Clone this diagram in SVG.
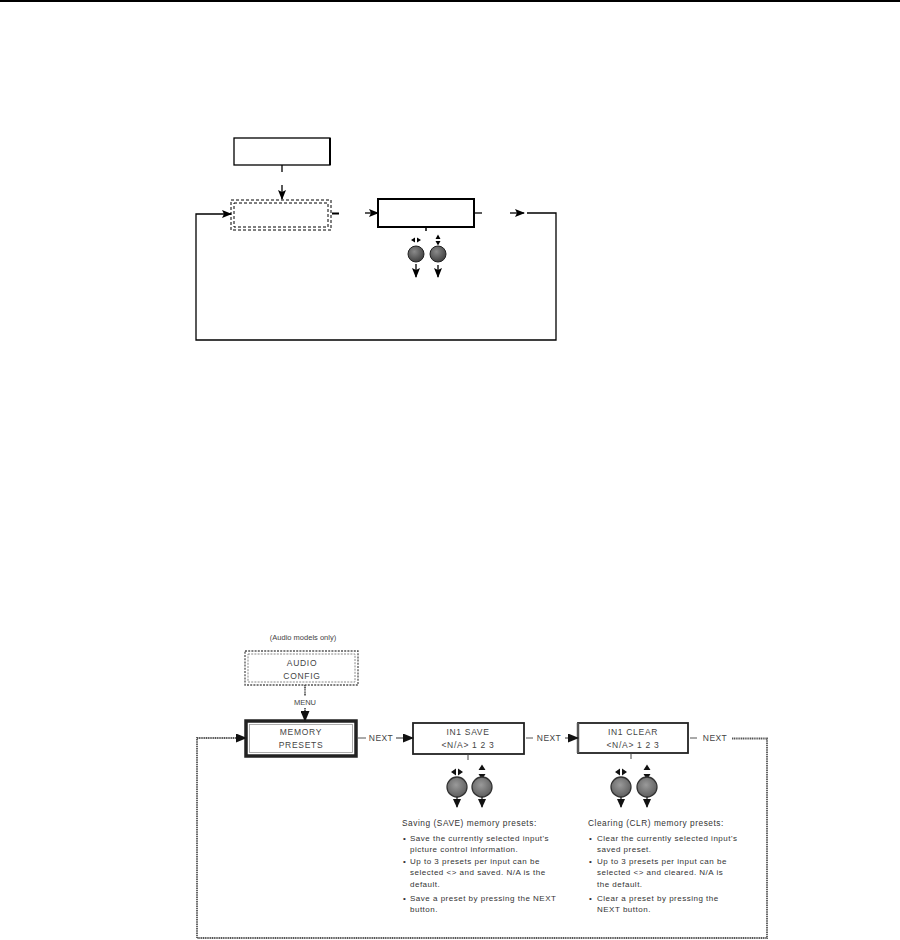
<svg xmlns="http://www.w3.org/2000/svg" width="900" height="940" viewBox="0 0 900 940">
<style>
text{font-family:"Liberation Sans",Arial,sans-serif;fill:#333}
.ln{fill:none;stroke:#000;stroke-width:1.3}
.gl{fill:none;stroke:#555;stroke-width:1.8;stroke-dasharray:1.2 0.6}
.lbl{font-size:8.5px;letter-spacing:0.7px;text-anchor:middle;fill:#444}
.nx{font-size:8.5px;letter-spacing:0.4px;text-anchor:middle;fill:#444}
.sm{font-size:7.5px;text-anchor:middle;fill:#444}
.note{font-size:8px;letter-spacing:0.5px;fill:#333}
.hd{font-size:8.3px;letter-spacing:0.55px;fill:#333}
.knt{fill:url(#kt);stroke:#222;stroke-width:1}
.knb{fill:url(#kb);stroke:#333;stroke-width:1.3}
</style>
<defs>
<marker id="a" markerUnits="userSpaceOnUse" markerWidth="10" markerHeight="8" refX="9" refY="4" orient="auto"><path d="M0,0 L10,4 L0,8 L2,4 Z" fill="#000"/></marker>
<marker id="b" markerUnits="userSpaceOnUse" markerWidth="11" markerHeight="9" refX="10" refY="4.5" orient="auto"><path d="M0,0 L11,4.5 L0,9 Z" fill="#111"/></marker>
<marker id="c" markerUnits="userSpaceOnUse" markerWidth="9" markerHeight="8" refX="8" refY="4" orient="auto"><path d="M0,0 L9,4 L0,8 Z" fill="#111"/></marker>
<radialGradient id="kt" cx="40%" cy="35%" r="70%"><stop offset="0" stop-color="#8a8a8a"/><stop offset="1" stop-color="#3c3c3c"/></radialGradient>
<radialGradient id="kb" cx="45%" cy="40%" r="70%"><stop offset="0" stop-color="#9a9a9a"/><stop offset="1" stop-color="#555"/></radialGradient>
</defs>

<rect x="0" y="0" width="900" height="2" fill="#000"/>

<!-- Top diagram -->
<g id="top-box1"><rect x="234" y="138" width="96" height="27" fill="#fff" stroke="#000" stroke-width="1.3"/><line x1="330" y1="138" x2="330" y2="165" stroke="#000" stroke-width="2"/></g>
<g id="top-dashed"><rect x="231" y="200" width="100" height="30" fill="none" stroke="#000" stroke-width="1" stroke-dasharray="3 2"/><rect x="234" y="203" width="94" height="24" fill="none" stroke="#000" stroke-width="1" stroke-dasharray="3 2"/></g>
<g id="top-box2"><rect x="378" y="199" width="96" height="28" fill="#fff" stroke="#000" stroke-width="2"/></g>
<g id="top-knobs">
<path d="M411,240 L415,237.5 L415,242.5 Z M421,240 L417,237.5 L417,242.5 Z" fill="#000"/>
<path d="M438,234.5 L435.5,239 L440.5,239 Z M438,245.5 L435.5,241 L440.5,241 Z" fill="#000"/>
<circle class="knt" cx="416" cy="254" r="8"/>
<circle class="knt" cx="438" cy="254" r="8"/>
</g>
<g id="top-connectors">
<line class="ln" x1="282" y1="165" x2="282" y2="172"/>
<line class="ln" x1="282" y1="185" x2="282" y2="199" marker-end="url(#a)"/>
<line x1="332" y1="213.5" x2="339" y2="213.5" stroke="#000" stroke-width="2"/>
<line class="ln" x1="365" y1="213" x2="378" y2="213" marker-end="url(#a)"/>
<line class="ln" x1="474" y1="213" x2="482" y2="213"/>
<line class="ln" x1="510" y1="213" x2="524" y2="213" marker-end="url(#a)"/>
<path class="ln" d="M527,213 H556 V340 H196 V214 H231" marker-end="url(#a)" stroke-width="1.5"/>
<line x1="426" y1="227" x2="426" y2="231" stroke="#000" stroke-width="1.5"/>
<line class="ln" x1="416" y1="264" x2="416" y2="277" marker-end="url(#a)" stroke-width="1.6"/>
<line class="ln" x1="438" y1="265" x2="438" y2="277" marker-end="url(#a)" stroke-width="1.6"/>
</g>

<!-- Bottom diagram -->
<text class="sm" x="303" y="640">(Audio models only)</text>
<g id="audio-config">
<rect x="245" y="651" width="113" height="34" fill="none" stroke="#555" stroke-width="1.3" stroke-dasharray="2 1.2"/>
<rect x="248" y="654" width="107" height="28" fill="none" stroke="#888" stroke-width="1" stroke-dasharray="2 1.2"/>
<text class="lbl" x="302" y="666">AUDIO</text>
<text class="lbl" x="302" y="679">CONFIG</text>
</g>
<g id="memory-presets">
<rect x="246" y="721" width="110" height="35" fill="#fff" stroke="#222" stroke-width="3.5"/>
<rect x="249.5" y="724.5" width="103" height="28" fill="none" stroke="#999" stroke-width="0.8"/>
<text class="lbl" x="301" y="735">MEMORY</text>
<text class="lbl" x="301" y="748">PRESETS</text>
</g>
<g id="in1-save">
<rect x="413" y="723" width="111" height="31" fill="#fff" stroke="#222" stroke-width="1.8"/>
<text class="lbl" x="468" y="735">IN1 SAVE</text>
<text class="lbl" x="468" y="748">&lt;N/A&gt; 1 2 3</text>
</g>
<g id="in1-clear">
<rect x="578" y="723" width="110" height="30" fill="#fff" stroke="#222" stroke-width="1.8"/>
<line x1="578" y1="723" x2="578" y2="753" stroke="#555" stroke-width="2.5"/>
<text class="lbl" x="633" y="735">IN1 CLEAR</text>
<text class="lbl" x="633" y="748">&lt;N/A&gt; 1 2 3</text>
</g>
<g id="save-knobs">
<path d="M451,772 L456,768.5 L456,775.5 Z M463,772 L458,768.5 L458,775.5 Z" fill="#111"/>
<path d="M482,764.5 L478.5,770 L485.5,770 Z M482,779.5 L478.5,774 L485.5,774 Z" fill="#111"/>
<circle class="knb" cx="457" cy="787" r="10"/>
<circle class="knb" cx="482" cy="787" r="10"/>
</g>
<g id="clear-knobs">
<path d="M615,772 L620,768.5 L620,775.5 Z M627,772 L622,768.5 L622,775.5 Z" fill="#111"/>
<path d="M647,764.5 L643.5,770 L650.5,770 Z M647,779.5 L643.5,774 L650.5,774 Z" fill="#111"/>
<circle class="knb" cx="621" cy="787" r="10"/>
<circle class="knb" cx="647" cy="787" r="10"/>
</g>
<g id="save-notes">
<text class="hd" x="402" y="826">Saving (SAVE) memory presets:</text>
<text class="note" x="403" y="841">•</text>
<text class="note" x="410" y="841">Save the currently selected input's</text>
<text class="note" x="410" y="852">picture control information.</text>
<text class="note" x="403" y="864">•</text>
<text class="note" x="410" y="864">Up to 3 presets per input can be</text>
<text class="note" x="410" y="875">selected &lt;&gt; and saved. N/A is the</text>
<text class="note" x="410" y="887">default.</text>
<text class="note" x="403" y="901">•</text>
<text class="note" x="410" y="901">Save a preset by pressing the NEXT</text>
<text class="note" x="410" y="912">button.</text>
</g>
<g id="clear-notes">
<text class="hd" x="588" y="826">Clearing (CLR) memory presets:</text>
<text class="note" x="589" y="841">•</text>
<text class="note" x="597" y="841">Clear the currently selected input's</text>
<text class="note" x="597" y="852">saved preset.</text>
<text class="note" x="589" y="864">•</text>
<text class="note" x="597" y="864">Up to 3 presets per input can be</text>
<text class="note" x="597" y="875">selected &lt;&gt; and cleared. N/A is</text>
<text class="note" x="597" y="887">the default.</text>
<text class="note" x="589" y="901">•</text>
<text class="note" x="597" y="901">Clear a preset by pressing the</text>
<text class="note" x="597" y="912">NEXT button.</text>
</g>
<g id="bottom-connectors">
<line class="gl" x1="305" y1="685" x2="305" y2="696"/>
<text class="sm" x="305" y="705">MENU</text>
<line class="gl" x1="305" y1="708" x2="305" y2="721" marker-end="url(#b)"/>
<line x1="357" y1="738" x2="366" y2="738" stroke="#555" stroke-width="1"/>
<text class="nx" x="381" y="741">NEXT</text>
<line x1="396" y1="738" x2="413" y2="738" stroke="#333" stroke-width="1" marker-end="url(#b)"/>
<line x1="526" y1="738" x2="533" y2="738" stroke="#555" stroke-width="1"/>
<text class="nx" x="549" y="741">NEXT</text>
<line x1="565" y1="738" x2="578" y2="738" stroke="#333" stroke-width="1" marker-end="url(#b)"/>
<line x1="690" y1="738" x2="697" y2="738" stroke="#555" stroke-width="1"/>
<text class="nx" x="715" y="741">NEXT</text>
<path class="gl" d="M732,738.5 H767 V938 H197 V738 H246" marker-end="url(#b)"/>
<line x1="468" y1="754" x2="468" y2="760" stroke="#444" stroke-width="1"/>
<line x1="631" y1="753" x2="631" y2="759" stroke="#444" stroke-width="1"/>
<line x1="457" y1="797" x2="457" y2="807" stroke="#222" stroke-width="1.3" marker-end="url(#c)"/>
<line x1="482" y1="797" x2="482" y2="807" stroke="#222" stroke-width="1.3" marker-end="url(#c)"/>
<line x1="621" y1="797" x2="621" y2="807" stroke="#222" stroke-width="1.3" marker-end="url(#c)"/>
<line x1="647" y1="797" x2="647" y2="807" stroke="#222" stroke-width="1.3" marker-end="url(#c)"/>
</g>
</svg>
